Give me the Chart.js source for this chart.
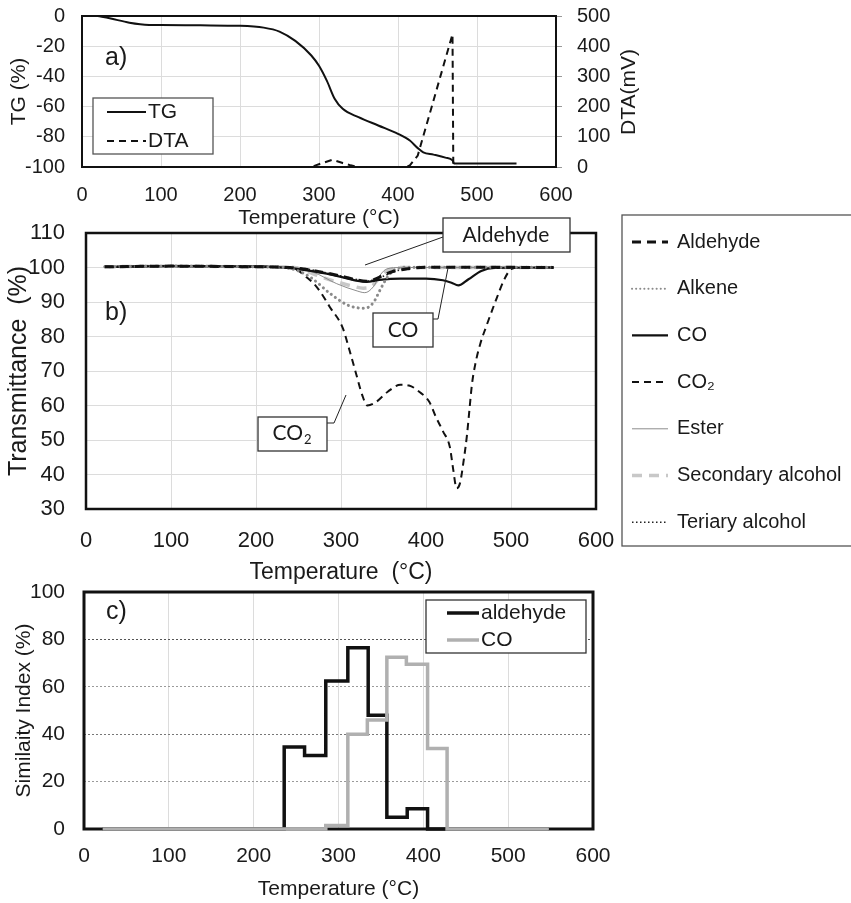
<!DOCTYPE html>
<html>
<head>
<meta charset="utf-8">
<script src="https://cdn.jsdelivr.net/npm/chart.js@4.4.1/dist/chart.umd.min.js"></script>
<style>
  body { margin: 0; background: #fff; }
  #wrap { position: relative; width: 851px; height: 903px; overflow: hidden; }
  #wrap canvas { position: absolute; left: 0; top: 0; }
</style>
</head>
<body>
<div id="wrap">
  <canvas id="chartA" width="851" height="903"></canvas>
  <canvas id="chartB" width="851" height="903"></canvas>
  <canvas id="chartC" width="851" height="903"></canvas>
</div>
<script>
// ---- a) TG / DTA ----
const tempTicks = [0, 100, 200, 300, 400, 500, 600];
const tgTicks = [-100, -80, -60, -40, -20, 0];
const dtaTicks = [0, 100, 200, 300, 400, 500];

const tgTemp   = [20, 35, 60, 85, 100, 150, 200, 230, 250, 270, 290, 300, 310, 320, 330, 350, 375, 400, 415, 425, 432, 445, 460, 469, 471, 500, 550];
const tgValues = [0, -1.5, -4.4, -5.9, -6, -6.2, -6.5, -7.7, -10.3, -16.5, -26, -33, -43, -55, -61.5, -67, -72.5, -78, -82.5, -87.5, -90.3, -91.8, -93.8, -95.6, -97.6, -97.6, -97.6];

const dtaTemp   = [20, 100, 200, 290, 302, 317, 330, 340, 350, 410, 415, 425, 469, 470, 475, 550];
const dtaValues = [0, 0, 0, 0, 11, 24, 13, 5.5, 0, 0, 5.5, 38, 440, 5, 0, 0];

// ---- b) FTIR transmittance ----
const transTicks = [30, 40, 50, 60, 70, 80, 90, 100, 110];

const aldehydeTemp   = [22, 100, 200, 240, 270, 300, 318, 330, 340, 350, 362, 378, 400, 550];
const aldehydeValues = [100.2, 100.4, 100.2, 100, 99, 97.5, 96.4, 96, 96.6, 97.8, 98.9, 99.6, 100.1, 100];

const alkeneTemp   = [22, 100, 200, 232, 250, 265, 287, 307, 320, 328, 338, 346, 354, 364, 380, 550];
const alkeneValues = [100.2, 100.4, 100.2, 100, 99, 97, 92.5, 89.2, 88.3, 88.2, 89.8, 93.5, 97, 99.5, 100.1, 100.1];

const coTemp   = [22, 100, 200, 240, 270, 300, 320, 330, 345, 370, 400, 420, 430, 438, 450, 465, 480, 550];
const coValues = [100.2, 100.4, 100.3, 99.8, 98.8, 97.3, 96.1, 95.8, 96.4, 96.8, 96.8, 96.3, 95.6, 94.8, 96.6, 99, 99.9, 100];

const co2Temp   = [22, 100, 200, 240, 250, 258, 272, 287, 302, 310, 318, 325, 331, 340, 355, 370, 380, 392, 404, 412, 420, 428, 432, 436, 440, 444, 448, 451, 454, 458, 464, 471, 483, 492, 500, 510, 550];
const co2Values = [100.2, 100.4, 100.2, 100, 99, 97.5, 94.2, 88.5, 82.5, 76, 69, 63, 60, 60.8, 64, 66, 65.8, 64, 61, 56.5, 52.5, 48, 41.5, 36, 37.5, 43.5, 51, 58.5, 66, 72, 78, 83, 91, 96.5, 99.5, 100, 100];

const esterTemp   = [22, 100, 200, 245, 267, 295, 319, 328, 338, 346, 354, 370, 550];
const esterValues = [100.2, 100.4, 100.2, 100, 98.7, 95.3, 93.2, 92.7, 94.4, 97.8, 99.6, 100, 100];

const secAlcTemp   = [22, 100, 200, 245, 260, 280, 300, 315, 326, 336, 345, 358, 375, 550];
const secAlcValues = [100.2, 100.4, 100.2, 100, 98.8, 97, 95.5, 94.5, 94, 94.5, 97, 99.5, 100, 100];

const terAlcTemp   = [22, 100, 200, 245, 280, 310, 330, 345, 365, 385, 550];
const terAlcValues = [100.2, 100.4, 100.2, 100, 98.6, 97, 96.1, 97, 99, 100, 100];

// ---- c) similarity index (bin start temperatures, stepped) ----
const simTicks = [0, 20, 40, 60, 80, 100];
const aldSimTemp   = [22, 236, 260, 285, 311, 335, 357, 381, 405, 548];
const aldSimValues = [0, 34.6, 31, 62.5, 76.5, 48, 5, 8.5, 0, 0];
const coSimTemp    = [22, 285, 311, 334, 357, 380, 405, 428, 548];
const coSimValues  = [0, 1.5, 40, 46, 72.5, 69.5, 34, 0, 0];

// ---------------------------------------------------------------
const SANS = "'Liberation Sans', Arial, sans-serif";
const CALLOUT = "Lato, 'Open Sans', sans-serif";
Chart.defaults.font.family = SANS;
Chart.defaults.color = '#1a1a1a';

const pts = (xs, ys) => xs.map((x, i) => ({ x: x, y: ys[i] }));
const step = arr => arr[1] - arr[0];

// fixed axis size, no extra room for the end labels
const fixWidth = w => s => { s.width = w; s.paddingTop = 0; s.paddingBottom = 0; };
const fixHeight = h => s => { s.height = h; s.paddingLeft = 0; s.paddingRight = 0; };

function drawText(ctx, t) {
  const fam = t.family || SANS;
  ctx.save();
  ctx.translate(t.x, t.y);
  if (t.rot) ctx.rotate(t.rot);
  ctx.fillStyle = t.color || '#1a1a1a';
  ctx.textBaseline = 'middle';
  ctx.font = t.size + 'px ' + fam;
  if (t.sub) {
    const w1 = ctx.measureText(t.text).width;
    ctx.font = Math.round(t.size * 0.62) + 'px ' + fam;
    const w2 = ctx.measureText(t.sub).width;
    const x0 = -(w1 + w2 + 1) / 2;
    ctx.textAlign = 'left';
    ctx.fillText(t.sub, x0 + w1 + 1, t.size * 0.32);
    ctx.font = t.size + 'px ' + fam;
    ctx.fillText(t.text, x0, 0);
  } else {
    ctx.textAlign = t.align || 'center';
    ctx.fillText(t.text, 0, 0);
  }
  ctx.restore();
}

// plot frame drawn under the data lines
function framePlugin(width) {
  return {
    id: 'frame',
    beforeDatasetsDraw(chart) {
      const { ctx, chartArea: a } = chart;
      ctx.save();
      ctx.strokeStyle = '#111';
      ctx.lineWidth = width;
      ctx.strokeRect(a.left, a.top, a.right - a.left, a.bottom - a.top);
      ctx.restore();
    }
  };
}

// labels, callouts and legends
function overlayPlugin(spec) {
  return {
    id: 'overlay',
    afterDraw(chart) {
      const ctx = chart.ctx;
      ctx.save();
      (spec.lines || []).forEach(l => {
        ctx.beginPath();
        ctx.strokeStyle = '#222';
        ctx.lineWidth = 1;
        l.forEach((p, i) => i ? ctx.lineTo(p[0], p[1]) : ctx.moveTo(p[0], p[1]));
        ctx.stroke();
      });
      (spec.boxes || []).forEach(b => {
        ctx.fillStyle = '#fff';
        ctx.fillRect(b.x, b.y, b.w, b.h);
        ctx.strokeStyle = b.color || '#333';
        ctx.lineWidth = b.width || 1.3;
        ctx.strokeRect(b.x, b.y, b.w, b.h);
      });
      (spec.texts || []).forEach(t => drawText(ctx, t));
      const lg = spec.legend;
      if (lg) {
        chart.data.datasets.forEach((ds, i) => {
          const y = lg.y0 + i * lg.dy;
          ctx.save();
          ctx.beginPath();
          ctx.setLineDash(ds.legendDash || ds.borderDash || []);
          ctx.lineCap = ds.borderCapStyle || 'butt';
          ctx.strokeStyle = ds.borderColor;
          ctx.lineWidth = ds.legendWidth || ds.borderWidth;
          ctx.moveTo(lg.x0, y);
          ctx.lineTo(lg.x1, y);
          ctx.stroke();
          ctx.restore();
          drawText(ctx, { text: ds.label, x: lg.tx, y: y, size: lg.size, align: 'left' });
        });
      }
      ctx.restore();
    }
  };
}

const baseOpts = {
  responsive: false,
  animation: false,
  events: [],
  plugins: { legend: { display: false }, tooltip: { enabled: false } },
  elements: { point: { radius: 0 } }
};

// ---------------- a) ----------------
new Chart(document.getElementById('chartA'), {
  type: 'line',
  data: {
    datasets: [
      { label: 'TG', data: pts(tgTemp, tgValues), yAxisID: 'y', borderColor: '#111', borderWidth: 2,
        cubicInterpolationMode: 'monotone', clip: 4 },
      { label: 'DTA', data: pts(dtaTemp, dtaValues), yAxisID: 'y2', borderColor: '#111', borderWidth: 2,
        borderDash: [7, 5], tension: 0, clip: 4 }
    ]
  },
  options: Object.assign({}, baseOpts, {
    layout: { padding: { top: 16, left: 0, right: 0, bottom: 903 - 167 - 62 } },
    scales: {
      x: {
        type: 'linear', min: tempTicks[0], max: tempTicks[tempTicks.length - 1],
        ticks: { stepSize: step(tempTicks), padding: 16, font: { size: 20 } },
        grid: { color: '#dcdcdc', drawTicks: false },
        border: { display: false },
        title: { display: true, text: 'Temperature (°C)', font: { size: 21, lineHeight: 1 }, padding: { top: 0, bottom: 0.5 } },
        afterFit: fixHeight(62)
      },
      y: {
        position: 'left', min: tgTicks[0], max: tgTicks[tgTicks.length - 1],
        ticks: { stepSize: step(tgTicks), padding: 17, font: { size: 20 } },
        grid: { color: '#dcdcdc', drawTicks: false },
        border: { display: false },
        title: { display: true, text: 'TG (%)', font: { size: 21, lineHeight: 1 }, padding: { top: 8.5, bottom: 0 } },
        afterFit: fixWidth(82)
      },
      y2: {
        position: 'right', min: dtaTicks[0], max: dtaTicks[dtaTicks.length - 1],
        ticks: { stepSize: step(dtaTicks), padding: 15, font: { size: 20 } },
        grid: { drawOnChartArea: false, tickLength: 6, color: '#999' },
        border: { display: false },
        afterFit: fixWidth(851 - 556)
      }
    }
  }),
  plugins: [framePlugin(2), overlayPlugin({
    boxes: [{ x: 93, y: 98, w: 120, h: 56, color: '#555' }],
    texts: [
      { text: 'a)', x: 105, y: 58, size: 25, align: 'left' },
      { text: 'DTA(mV)', x: 629, y: 92, size: 21, rot: -Math.PI / 2 }
    ],
    legend: { x0: 107, x1: 146, tx: 148, y0: 112, dy: 29, size: 21 }
  })]
});

// ---------------- b) ----------------
new Chart(document.getElementById('chartB'), {
  type: 'line',
  data: {
    datasets: [
      { label: 'Aldehyde', data: pts(aldehydeTemp, aldehydeValues), borderColor: '#111', borderWidth: 3,
        borderDash: [9, 6], cubicInterpolationMode: 'monotone' },
      { label: 'Alkene', data: pts(alkeneTemp, alkeneValues), borderColor: '#8a8a8a', borderWidth: 3,
        borderDash: [0.1, 5], borderCapStyle: 'round', legendWidth: 2, legendDash: [0.1, 4],
        cubicInterpolationMode: 'monotone' },
      { label: 'CO', data: pts(coTemp, coValues), borderColor: '#111', borderWidth: 2.2,
        cubicInterpolationMode: 'monotone' },
      { label: 'CO₂', data: pts(co2Temp, co2Values), borderColor: '#111', borderWidth: 2,
        borderDash: [7, 5], cubicInterpolationMode: 'monotone' },
      { label: 'Ester', data: pts(esterTemp, esterValues), borderColor: '#8c8c8c', borderWidth: 1,
        cubicInterpolationMode: 'monotone' },
      { label: 'Secondary alcohol', data: pts(secAlcTemp, secAlcValues), borderColor: '#c8c8c8', borderWidth: 3.5,
        borderDash: [10, 7], cubicInterpolationMode: 'monotone' },
      { label: 'Teriary alcohol', data: pts(terAlcTemp, terAlcValues), borderColor: '#222', borderWidth: 1.6,
        borderDash: [1.5, 2.5], cubicInterpolationMode: 'monotone' }
    ]
  },
  options: Object.assign({}, baseOpts, {
    layout: { padding: { top: 233, left: 0, right: 851 - 596, bottom: 903 - 509 - 75 } },
    scales: {
      x: {
        type: 'linear', min: tempTicks[0], max: tempTicks[tempTicks.length - 1],
        ticks: { stepSize: step(tempTicks), padding: 19, font: { size: 22 } },
        grid: { color: '#dcdcdc', drawTicks: false },
        border: { display: false },
        title: { display: true, text: 'Temperature  (°C)', font: { size: 23, lineHeight: 1 }, padding: { top: 0, bottom: 0 } },
        afterFit: fixHeight(75)
      },
      y: {
        min: transTicks[0], max: transTicks[transTicks.length - 1],
        ticks: { stepSize: step(transTicks), padding: 21, font: { size: 22 } },
        grid: { color: '#dcdcdc', drawTicks: false },
        border: { display: false },
        title: { display: true, text: 'Transmittance  (%)', font: { size: 25, lineHeight: 1 }, padding: { top: 6.5, bottom: 0 } },
        afterFit: fixWidth(86)
      }
    }
  }),
  plugins: [framePlugin(2.5), overlayPlugin({
    lines: [
      [[443, 237], [365, 265]],
      [[433, 319], [438, 319], [448, 268]],
      [[327, 423], [334, 423], [346, 395]]
    ],
    boxes: [
      { x: 443, y: 218, w: 127, h: 34 },
      { x: 373, y: 313, w: 60, h: 34 },
      { x: 258, y: 417, w: 69, h: 34 },
      { x: 622, y: 215, w: 240, h: 331, color: '#555' }
    ],
    texts: [
      { text: 'b)', x: 105, y: 313, size: 25, align: 'left' },
      { text: 'Aldehyde', x: 506, y: 235, size: 21, family: CALLOUT },
      { text: 'CO', x: 403, y: 330, size: 21, family: CALLOUT },
      { text: 'CO', sub: '2', x: 292, y: 433, size: 21, family: CALLOUT }
    ],
    legend: { x0: 632, x1: 668, tx: 677, y0: 242, dy: 46.7, size: 20 }
  })]
});

// ---------------- c) ----------------
new Chart(document.getElementById('chartC'), {
  type: 'line',
  data: {
    datasets: [
      { label: 'aldehyde', data: pts(aldSimTemp, aldSimValues), borderColor: '#111', borderWidth: 3.5,
        stepped: true, order: 1, clip: 4 },
      { label: 'CO', data: pts(coSimTemp, coSimValues), borderColor: '#b0b0b0', borderWidth: 3.5,
        stepped: true, order: 0, clip: 4 }
    ]
  },
  options: Object.assign({}, baseOpts, {
    layout: { padding: { top: 592, left: 0, right: 851 - 593, bottom: 903 - 829 - 71 } },
    scales: {
      x: {
        type: 'linear', min: tempTicks[0], max: tempTicks[tempTicks.length - 1],
        ticks: { stepSize: step(tempTicks), padding: 15, font: { size: 21 } },
        grid: { color: '#dcdcdc', drawTicks: false },
        border: { display: false },
        title: { display: true, text: 'Temperature (°C)', font: { size: 21, lineHeight: 1 }, padding: { top: 0, bottom: 0.5 } },
        afterFit: fixHeight(71)
      },
      y: {
        min: simTicks[0], max: simTicks[simTicks.length - 1],
        ticks: { stepSize: step(simTicks), padding: 19, font: { size: 21 } },
        grid: {
          drawTicks: false,
          color: c => c.tick && c.tick.value === 80 ? '#555' : (c.tick && c.tick.value === 40 ? '#777' : '#9a9a9a')
        },
        border: { display: false, dash: [2, 2] },
        title: { display: true, text: 'Similaity Index (%)', font: { size: 21, lineHeight: 1 }, padding: { top: 13.5, bottom: 0 } },
        afterFit: fixWidth(84)
      }
    }
  }),
  plugins: [framePlugin(3), overlayPlugin({
    boxes: [{ x: 426, y: 600, w: 160, h: 53, color: '#333' }],
    texts: [{ text: 'c)', x: 106, y: 612, size: 25, align: 'left' }],
    legend: { x0: 447, x1: 479, tx: 481, y0: 613, dy: 27, size: 21 }
  })]
});
</script>
</body>
</html>
